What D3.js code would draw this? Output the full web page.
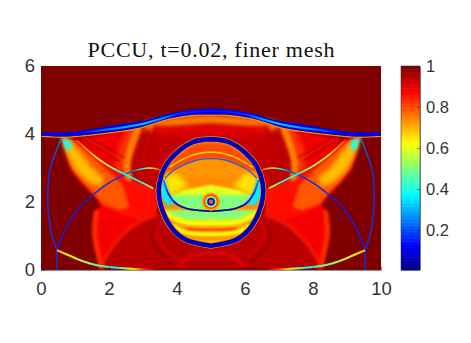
<!DOCTYPE html>
<html>
<head>
<meta charset="utf-8">
<script src="https://cdn.jsdelivr.net/npm/d3@7"></script>
<style>
  html, body { margin: 0; background: #fff; }
  svg { display: block; }
  .tick text { font-family: "Liberation Sans", Arial, sans-serif; font-size: 18.5px; fill: #333; }
  .cbar .tick text { font-size: 16.5px; }
</style>
</head>
<body>
<svg id="chart" width="471" height="343"></svg>
<script>
// axis labels
var xTicks = [0, 2, 4, 6, 8, 10];
var yTicks = [0, 2, 4, 6];
var colorTicks = [0.2, 0.4, 0.6, 0.8, 1];
var colorRange = [0.005, 1];

// jet colormap stops
var jetStops = [0, 0.125, 0.375, 0.625, 0.875, 1];
var jetColors = ["#000080", "#0000ff", "#00ffff", "#ffff00", "#ff0000", "#800000"];

// traced contours of the density field, [x, y] in domain units, left half only when symmetric
var shockTop = [[0, 4.06], [0.8, 4.05], [2.13, 4.26], [3.11, 4.41], [3.79, 4.61], [4.58, 4.73], [5, 4.75]];
var shockBottom = [[0, 3.95], [0.8, 3.93], [2.13, 4.07], [2.91, 4.19], [3.79, 4.46], [4.58, 4.57], [5, 4.57]];
var postShock = [[0, 3.95], [0.8, 3.92], [2.13, 4.07], [2.91, 4.19], [3.79, 4.46], [4.58, 4.57], [5, 4.56], [5, 0], [0, 0]];

var fanOuter = [[0.6, 3.92], [0.71, 3.58], [0.85, 2.99], [1.15, 2.6], [1.64, 2.11], [1.74, 1.91], [2.3, 1.65], [2.9, 1.45], [3.4, 1.7], [3.4, 2.4], [2.91, 2.6], [2.03, 3.04], [1.05, 3.82]];
var fanMid = [[0.62, 3.9], [0.76, 3.45], [0.92, 3.0], [1.2, 2.62], [1.66, 2.13], [1.8, 1.95], [2.3, 1.75], [2.6, 1.85], [2.4, 2.5], [2.0, 2.9], [1.6, 3.25], [1.0, 3.75]];
var fanCore = [[0.62, 3.88], [0.78, 3.35], [1.02, 2.92], [1.4, 2.58], [1.75, 2.45], [1.85, 2.7], [1.45, 3.05], [1.2, 3.4], [0.9, 3.78]];
var fanTip = [[0.62, 3.9], [0.72, 3.55], [0.86, 3.5], [0.9, 3.78]];
var lowerBright = [[1.59, 1.67], [1.54, 1.08], [1.74, 0.05], [2.18, 0.78], [2.76, 1.32], [3.4, 1.62], [3.4, 2.2], [2.6, 2.3], [1.78, 1.95]];
var lowerDark = [[1.74, 0.05], [2.18, 0.78], [2.76, 1.32], [3.4, 1.62], [5, 1.6], [5, 0]];
var leftEdge = [[1.63, 1.7], [1.58, 1.08], [1.78, 0.1]];
var ridge = [[1.74, 0.1], [2.18, 0.78], [2.76, 1.32], [3.4, 1.62]];
var darkArc = [[3.35, 1.27], [3.26, 0.88], [3.84, 0.2]];
var darkArcTwo = [[3.5, 1.4], [3.42, 0.95], [3.95, 0.35]];
var floorArc = [[4.04, 0.1], [4.43, 0.44], [5, 0.5]];

var betweenRed = [[1.1, 3.85], [2.13, 4.03], [2.95, 4.15], [2.6, 3.3], [2.55, 2.75], [2.03, 3.04], [1.54, 3.38]];
var archRight = [[2.95, 4.16], [2.72, 3.6], [2.6, 3.1], [2.75, 2.65], [3.4, 2.45], [5, 2.45], [5, 4.5], [3.8, 4.42]];
var arch = [[2.86, 4.18], [2.65, 3.6], [2.53, 3.1], [2.58, 2.72]];
var archGlow = [[2.72, 4.12], [2.47, 3.6], [2.36, 3.05]];
var archStripe = [[3.15, 4.1], [2.97, 3.65], [2.92, 3.2], [3.05, 2.85]];
var archStripeTwo = [[3.4, 4.2], [3.22, 3.75], [3.15, 3.3]];
var overArc = [[3.05, 4.22], [3.8, 4.33], [5, 4.44]];
var topRed = [[3.3, 4.15], [4.0, 4.08], [5, 4.12]];
var diagonalEcho = [[1.12, 3.92], [1.75, 3.55], [2.3, 3.2]];
var diagonalEchoTwo = [[1.4, 3.9], [2.0, 3.55], [2.45, 3.3]];
var diagonalEchoBright = [[1.25, 3.9], [1.85, 3.56], [2.4, 3.24]];

// ring and inside of the bubble
var bubble = [[5, 3.85], [4.48, 3.77], [3.99, 3.45], [3.65, 3.04], [3.48, 2.55], [3.47, 2.16], [3.6, 1.67], [3.89, 1.18], [4.28, 0.88], [5, 0.715]];
var capWarm = [[3.6, 2.9], [4.0, 3.35], [4.5, 3.7], [5, 3.75], [5, 3.28], [4.19, 3.09]];
var innerArc = [[3.65, 2.7], [3.9, 2.93], [4.19, 3.09], [4.6, 3.24], [5, 3.28]];
var yellowArc = [[3.78, 3.02], [4.19, 3.27], [4.6, 3.42], [5, 3.47]];
var warmSide = [[3.62, 2.72], [3.95, 2.85], [4.35, 2.5], [3.78, 2.15]];
var warmTop = [[3.55, 2.7], [3.9, 2.93], [4.19, 3.09], [4.6, 3.24], [5, 3.28], [5, 2.5], [4.19, 2.35], [3.7, 2.11]];
var lens = [[3.7, 2.11], [4.19, 2.35], [5, 2.5], [5, 1.73], [4.68, 1.75], [4.28, 1.81], [3.94, 1.98]];
var underCurve = [[3.4, 2.2], [3.75, 2.22], [3.94, 1.98], [4.28, 1.81], [4.68, 1.75], [5, 1.73], [5, 1.45], [4.2, 1.48], [3.5, 1.75]];
var underCentre = [[4.2, 1.78], [4.68, 1.74], [5, 1.72], [5, 1.48], [4.3, 1.52]];
var cyanWedge = [[3.52, 2.68], [3.62, 2.68], [3.76, 2.25], [3.96, 1.96], [3.72, 1.9], [3.5, 2.2]];
var lowerWarm = [[3.5, 1.75], [4.2, 1.48], [5, 1.45], [5, 0.7], [3.9, 0.9]];
var stripeYellow = [[3.55, 1.72], [4.2, 1.42], [5, 1.38]];
var stripeOrange = [[3.95, 1.36], [4.4, 1.27], [5, 1.26]];
var stripeRed = [[4.25, 1.2], [4.6, 1.18], [5, 1.17]];
var stripeYellowLow = [[3.85, 1.3], [4.3, 1.09], [5, 1.06]];
var stripeOrangeLow = [[4.1, 1.0], [4.5, 0.95], [5, 0.93]];

// concentric rings around the centre, radius in domain units and value
var coreCenter = [5, 2.01];
var coreRadii = [0.27, 0.21, 0.17, 0.14, 0.11, 0.065];
var coreValues = [0.72, 0.82, 0.6, 0.35, 0.1, 0.78];

// values along curves, [x, y, value]
var shockMiddle = [[1.0, 4.01, 0.1], [1.6, 4.09, 0.2], [2.4, 4.19, 0.3], [3.0, 4.3, 0.33], [3.5, 4.44, 0.28], [4.0, 4.58, 0.17], [4.6, 4.66, 0.15], [5, 4.67, 0.15]];
var blueCurve = [[3.6, 2.65, 0.26], [3.74, 2.26, 0.16], [3.94, 1.98, 0.07], [4.28, 1.81, 0.04], [4.68, 1.75, 0.03], [5, 1.73, 0.03]];
var bottomShock = [[0.47, 0.58, 0.68], [0.8, 0.44, 0.62], [1.2, 0.27, 0.56], [1.65, 0.14, 0.47], [2.2, 0.07, 0.38], [2.6, 0.04, 0.6], [3.0, 0.02, 0.82], [3.3, 0.01, 0.9]];
var thinArc = [[0.47, 0.58, 0.16], [0.66, 1.08, 0.16], [0.9, 1.52, 0.16], [1.15, 1.86, 0.16], [1.29, 2.0, 0.16], [1.64, 2.3, 0.16], [2.03, 2.58, 0.16], [2.62, 2.88, 0.2], [2.95, 2.97, 0.4], [3.2, 3.0, 0.62], [3.5, 2.95, 0.78]];
var outerArc = [[0.6, 3.9, 0.25], [0.46, 3.53, 0.22], [0.26, 2.94, 0.18], [0.21, 2.5, 0.18], [0.2, 1.97, 0.18], [0.24, 1.5, 0.18], [0.33, 1.0, 0.18], [0.47, 0.58, 0.18]];
var footLine = [[0.47, 0.58, 0.18], [0.47, 0.3, 0.18], [0.47, 0, 0.18]];
var diagonal = [[1.05, 3.82, 0.8], [1.54, 3.38, 0.63], [2.03, 3.04, 0.52], [2.52, 2.79, 0.38], [2.91, 2.6, 0.42], [3.3, 2.4, 0.62]];

var width = 471, height = 343;
var plot = { left: 41, right: 381, top: 66, bottom: 270 };
var bar = { left: 401, right: 420 };

var x = d3.scaleLinear().domain([0, 10]).range([plot.left, plot.right]);
var y = d3.scaleLinear().domain([0, 6]).range([plot.bottom, plot.top]);
var c = d3.scaleLinear().domain(colorRange).range([plot.bottom, plot.top]);
var jet = d3.scaleLinear().domain(jetStops).range(jetColors).clamp(true);

var svg = d3.select("#chart");
var defs = svg.append("defs");

var mirror = function (pts) {
  return pts.map(function (p) { return [10 - p[0]].concat(p.slice(1)); });
};
// left half plus its reflection, as one outline
var both = function (pts) {
  return pts.concat(mirror(pts).reverse());
};

var lineOpen = d3.line().x(function (d) { return x(d[0]); }).y(function (d) { return y(d[1]); }).curve(d3.curveCatmullRom);
var lineRound = d3.line().x(function (d) { return x(d[0]); }).y(function (d) { return y(d[1]); }).curve(d3.curveCatmullRomClosed);
var lineClosed = d3.line().x(function (d) { return x(d[0]); }).y(function (d) { return y(d[1]); }).curve(d3.curveLinearClosed);

[0.4, 0.8, 1.5, 2.5, 4].forEach(function (s) {
  defs.append("filter").attr("id", "blur" + String(s).replace(".", "_"))
    .attr("filterUnits", "userSpaceOnUse")
    .attr("x", 0).attr("y", 0).attr("width", width).attr("height", height)
    .append("feGaussianBlur").attr("stdDeviation", s);
});
var blurUrl = function (s) { return "url(#blur" + String(s).replace(".", "_") + ")"; };

defs.append("clipPath").attr("id", "plotClip").append("rect")
  .attr("x", plot.left).attr("y", plot.top)
  .attr("width", plot.right - plot.left).attr("height", plot.bottom - plot.top);
defs.append("clipPath").attr("id", "bubbleClip").append("path").attr("d", lineRound(both(bubble)));

var field = svg.append("g").attr("clip-path", "url(#plotClip)");
field.append("rect")
  .attr("x", plot.left).attr("y", plot.top)
  .attr("width", plot.right - plot.left).attr("height", plot.bottom - plot.top)
  .attr("fill", jet(1));

function fill(g, pts, value, blur) {
  g.append("path").attr("d", lineClosed(pts)).attr("fill", jet(value))
    .attr("filter", blur ? blurUrl(blur) : null);
}
function fillTwin(g, pts, value, blur) {
  fill(g, pts, value, blur);
  fill(g, mirror(pts), value, blur);
}
function stroke(g, pts, value, w, blur) {
  [pts, mirror(pts)].forEach(function (p) {
    g.append("path").attr("d", lineOpen(p)).attr("fill", "none")
      .attr("stroke", jet(value)).attr("stroke-width", w)
      .attr("stroke-linecap", "round")
      .attr("filter", blur ? blurUrl(blur) : null);
  });
}
function strokeSym(g, pts, value, w, blur) {
  g.append("path").attr("d", lineOpen(both(pts))).attr("fill", "none")
    .attr("stroke", jet(value)).attr("stroke-width", w)
    .attr("filter", blur ? blurUrl(blur) : null);
}
// curve whose colour follows the value stored on its points
function valueCurve(g, pts, w) {
  [pts, mirror(pts)].forEach(function (p) {
    var probe = g.append("path").attr("d", lineOpen(p)).attr("fill", "none");
    var node = probe.node();
    var total = node.getTotalLength();
    var chord = [0];
    d3.pairs(p).forEach(function (s, i) {
      chord.push(chord[i] + Math.hypot(x(s[1][0]) - x(s[0][0]), y(s[1][1]) - y(s[0][1])));
    });
    var along = d3.scaleLinear().domain(chord).range(p.map(function (d) { return d[2]; }));
    var scale = chord[chord.length - 1] / total;
    d3.range(0, total, 1.5).forEach(function (l) {
      var a = node.getPointAtLength(l);
      var b = node.getPointAtLength(Math.min(l + 1.8, total));
      g.append("line").attr("x1", a.x).attr("y1", a.y).attr("x2", b.x).attr("y2", b.y)
        .attr("stroke", jet(along(l * scale))).attr("stroke-width", w);
    });
    probe.remove();
  });
}

// region fills below the shock
fill(field, both(postShock), 0.98);
fillTwin(field, lowerBright, 0.885, 0.8);
fill(field, both(lowerDark), 0.945, 0.8);
strokeSym(field, floorArc, 0.895, 3, 1.5);
stroke(field, leftEdge, 0.83, 5, 1.5);
stroke(field, ridge, 0.85, 3, 1.5);
stroke(field, darkArc, 0.985, 2, 0.8);
stroke(field, darkArcTwo, 0.9, 1.5, 0.8);
fillTwin(field, fanOuter, 0.865, 1.5);
fillTwin(field, fanMid, 0.79, 1.5);
fillTwin(field, fanCore, 0.69, 2.5);
fillTwin(field, fanTip, 0.4, 1.5);
fillTwin(field, betweenRed, 0.89, 1.5);
fillTwin(field, archRight, 0.935, 1.5);
strokeSym(field, overArc, 0.75, 9, 2.5);
strokeSym(field, topRed, 0.9, 8, 2.5);
stroke(field, archGlow, 0.83, 12, 2.5);
stroke(field, arch, 0.75, 7, 1.5);
stroke(field, archStripe, 0.96, 1.5, 0.8);
stroke(field, archStripeTwo, 0.96, 1.5, 0.8);
stroke(field, diagonalEcho, 0.96, 1.4, 0.8);
stroke(field, diagonalEchoBright, 0.82, 1, 0.8);
stroke(field, diagonalEchoTwo, 0.96, 1.2, 0.8);

// thin waves
var waves = field.append("g").attr("filter", blurUrl(0.4));
valueCurve(waves, outerArc, 1.3);
valueCurve(waves, footLine, 1.3);
valueCurve(waves, thinArc, 1.3);
valueCurve(waves, diagonal, 1.7);
valueCurve(waves, bottomShock, 2);

// main shock
var shock = field.append("g").attr("filter", blurUrl(0.4));
shock.append("path").attr("d", lineOpen(both(shockBottom))).attr("fill", "none")
  .attr("stroke", jet(0.74)).attr("stroke-width", 1.4).attr("transform", "translate(0,0.7)");
shock.append("path")
  .attr("d", lineOpen(both(shockTop)) + "L" + lineOpen(both(shockBottom).reverse()).slice(1) + "Z")
  .attr("fill", jet(0.1));
valueCurve(shock, shockMiddle, 2);

// bubble ring and interior
var inside = field.append("g").attr("clip-path", "url(#bubbleClip)");
fill(inside, both(bubble), 0.74);
fill(inside, both(capWarm), 0.8, 1.5);
fill(inside, both(warmTop), 0.73, 0.8);
fillTwin(inside, warmSide, 0.65, 2.5);
fill(inside, both(lens), 0.6, 0.8);
fill(inside, both(lowerWarm), 0.67, 1.5);
fill(inside, both(underCurve), 0.5, 1.5);
fill(inside, both(underCentre), 0.56, 1.5);
fillTwin(inside, cyanWedge, 0.36, 1.5);
strokeSym(inside, stripeYellow, 0.61, 6, 0.8);
strokeSym(inside, stripeOrange, 0.7, 2, 0.8);
strokeSym(inside, stripeRed, 0.85, 2, 0.8);
strokeSym(inside, stripeYellowLow, 0.63, 5, 0.8);
strokeSym(inside, stripeOrangeLow, 0.73, 3, 0.8);
strokeSym(inside, yellowArc, 0.67, 1.4, 0.4);
strokeSym(inside, innerArc, 0.22, 1.2, 0.4);
var insideCurve = inside.append("g").attr("filter", blurUrl(0.4));
valueCurve(insideCurve, blueCurve, 1.8);

coreRadii.forEach(function (r, i) {
  field.append("circle")
    .attr("cx", x(coreCenter[0])).attr("cy", y(coreCenter[1]))
    .attr("r", x(r) - x(0))
    .attr("fill", jet(coreValues[i]))
    .attr("filter", blurUrl(0.4));
});

field.append("path").attr("d", lineRound(both(bubble))).attr("fill", "none")
  .attr("stroke", jet(0.74)).attr("stroke-width", 6).attr("filter", blurUrl(0.4));
field.append("path").attr("d", lineRound(both(bubble))).attr("fill", "none")
  .attr("stroke", jet(0.06)).attr("stroke-width", 4.6).attr("filter", blurUrl(0.4));

// axes box and ticks
svg.append("g").attr("transform", "translate(0," + plot.bottom + ")")
  .call(d3.axisBottom(x).tickValues(xTicks).tickSizeInner(-3.4).tickSizeOuter(0).tickPadding(12).tickFormat(d3.format("d")));
svg.append("g").attr("transform", "translate(" + plot.left + ",0)")
  .call(d3.axisLeft(y).tickValues(yTicks).tickSizeInner(-3.4).tickSizeOuter(0).tickPadding(6).tickFormat(d3.format("d")));
svg.selectAll(".domain, .tick line").attr("stroke", "#262626").attr("stroke-width", 0.5);

// colorbar
var levels = d3.range(64);
var step = (colorRange[1] - colorRange[0]) / 64;
svg.append("g").selectAll("rect").data(levels).enter().append("rect")
  .attr("x", bar.left)
  .attr("width", bar.right - bar.left)
  .attr("y", function (d) { return c(colorRange[0] + (d + 1) * step); })
  .attr("height", function () { return c(0) - c(step) + 0.5; })
  .attr("fill", function (d) { return jet(colorRange[0] + (d + 0.5) * step); });
svg.append("rect")
  .attr("x", bar.left).attr("y", plot.top)
  .attr("width", bar.right - bar.left).attr("height", plot.bottom - plot.top)
  .attr("fill", "none").attr("stroke", "#262626").attr("stroke-width", 0.5);
svg.append("g").attr("class", "cbar").attr("transform", "translate(" + bar.right + ",0)")
  .call(d3.axisRight(c).tickValues(colorTicks).tickSizeInner(-3).tickSizeOuter(0).tickPadding(6).tickFormat(d3.format("~g")))
  .selectAll(".domain, .tick line").attr("stroke", "#262626").attr("stroke-width", 0.5);

// title
svg.append("text")
  .attr("x", 211).attr("y", 57)
  .attr("text-anchor", "middle")
  .attr("font-family", "'Liberation Serif', 'DejaVu Serif', serif")
  .attr("font-size", 22)
  .attr("textLength", 247)
  .attr("lengthAdjust", "spacing")
  .attr("fill", "#111")
  .text("PCCU, t=0.02, finer mesh");
</script>
</body>
</html>
